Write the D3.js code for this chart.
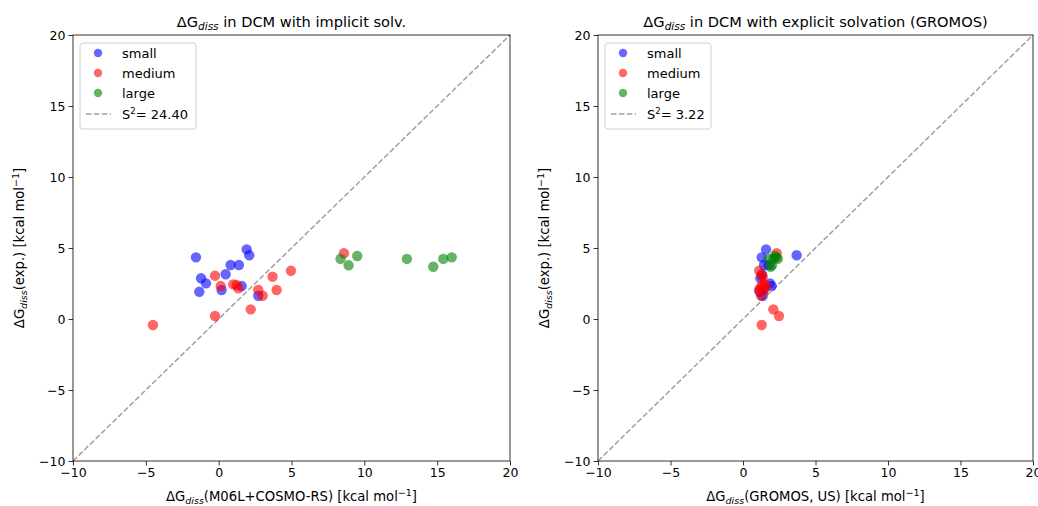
<!DOCTYPE html>
<html>
<head>
<meta charset="utf-8">
<script src="https://d3js.org/d3.v7.min.js"></script>
<style>
  body { margin: 0; background: #fff; }
  text { font-family: "DejaVu Sans", sans-serif; fill: #000; }
</style>
</head>
<body>
<svg id="chart" width="1038" height="506"></svg>
<script>
// ticks voor beide assen
const ticks = [-10, -5, 0, 5, 10, 15, 20];

// experimentele waarden (y) per groep
const smallExp  = [4.34, 4.90, 4.49, 3.80, 3.80, 3.15, 2.87, 2.51, 1.92, 2.04, 2.32, 1.64];
const mediumExp = [3.05, 2.32, 2.44, 2.39, 2.16, 2.98, 3.40, 2.04, 1.64, 2.04, 0.68, 0.21, -0.42, 4.63];
const largeExp  = [4.23, 3.78, 4.44, 4.23, 3.68, 4.23, 4.34];

// berekend met M06L+COSMO-RS (x, links)
const smallImpl  = [-1.56, 1.92, 2.10, 0.82, 1.39, 0.48, -1.21, -0.87, -1.33, 0.20, 1.58, 2.72];
const mediumImpl = [-0.25, 0.14, 1.00, 1.23, 1.35, 3.70, 4.96, 2.72, 3.02, 3.98, 2.20, -0.25, -4.51, 8.60];
const largeImpl  = [8.37, 8.92, 9.51, 12.92, 14.73, 15.42, 16.00];

// berekend met GROMOS, US (x, rechts)
const smallExpl  = [1.29, 1.59, 3.70, 1.45, 1.75, 1.30, 1.20, 1.86, 1.15, 1.40, 1.98, 1.36];
const mediumExpl = [1.30, 1.60, 1.50, 1.30, 1.20, 1.36, 1.12, 1.10, 1.25, 1.45, 2.09, 2.48, 1.29, 2.32];
const largeExpl  = [1.75, 2.00, 2.20, 2.40, 1.90, 2.10, 2.30];

const labels = ["small", "medium", "large"];
const colors = ["#0000ff", "#ff0000", "#008000"];

const svg = d3.select("#chart");

function zip(xs, ys) {
  return xs.map(function(x, i) { return {x: x, y: ys[i]}; });
}

function drawPanel(opts) {
  var x = d3.scaleLinear().domain([-10, 20]).range([opts.left, opts.right]);
  var y = d3.scaleLinear().domain([-10, 20]).range([461, 35]);

  var g = svg.append("g");

  // diagonale lijn
  g.append("line")
      .attr("x1", x(-10)).attr("y1", y(-10))
      .attr("x2", x(20)).attr("y2", y(20))
      .attr("stroke", "#a0a0a0")
      .attr("stroke-width", 1.5)
      .attr("stroke-dasharray", "5.5,2.4");

  // punten per groep
  opts.groups.forEach(function(data, i) {
    g.append("g").selectAll("circle")
        .data(data)
        .enter()
        .append("circle")
        .attr("cx", function(d) { return x(d.x); })
        .attr("cy", function(d) { return y(d.y); })
        .attr("r", 5.2)
        .attr("fill", colors[i])
        .attr("fill-opacity", 0.6);
  });

  // assen
  var xAxis = g.append("g")
      .attr("transform", "translate(0,461)")
      .call(d3.axisBottom(x).tickValues(ticks).tickSize(4.5).tickPadding(3).tickFormat(d3.format("d")));
  var yAxis = g.append("g")
      .attr("transform", "translate(" + opts.left + ",0)")
      .call(d3.axisLeft(y).tickValues(ticks).tickSize(4.5).tickPadding(3).tickFormat(d3.format("d")));
  [xAxis, yAxis].forEach(function(a) {
    a.select(".domain").remove();
    a.selectAll("text").attr("font-size", 12.5).style("font-family", "DejaVu Sans");
    a.selectAll("line").attr("stroke", "#000").attr("stroke-width", 0.8);
  });
  xAxis.selectAll("text").text(function(d) { return d < 0 ? "\u2212" + (-d) : d; });
  yAxis.selectAll("text").text(function(d) { return d < 0 ? "\u2212" + (-d) : d; });

  // kader
  g.append("rect")
      .attr("x", opts.left).attr("y", 35)
      .attr("width", opts.right - opts.left).attr("height", 426)
      .attr("fill", "none").attr("stroke", "#000").attr("stroke-width", 0.8);

  var cx = (opts.left + opts.right) / 2;

  // titel
  var t = g.append("text").attr("x", cx).attr("y", 27).attr("text-anchor", "middle").attr("font-size", 14.6);
  t.append("tspan").text("\u0394G");
  t.append("tspan").text("diss").attr("font-style", "italic").attr("font-size", 10.5).attr("dy", 3);
  t.append("tspan").text(" " + opts.title).attr("dy", -3);

  // x-label
  var xl = g.append("text").attr("x", cx).attr("y", 501).attr("text-anchor", "middle").attr("font-size", 13.2);
  xl.append("tspan").text("\u0394G");
  xl.append("tspan").text("diss").attr("font-style", "italic").attr("font-size", 9.5).attr("dy", 3);
  xl.append("tspan").text("(" + opts.xlabel + ") [kcal mol").attr("dy", -3);
  xl.append("tspan").text("\u22121").attr("font-size", 9.5).attr("dy", -5);
  xl.append("tspan").text("]").attr("dy", 5);

  // y-label
  var yl = g.append("text")
      .attr("transform", "translate(" + (opts.left - 49) + ",248) rotate(-90)")
      .attr("text-anchor", "middle").attr("font-size", 13.2);
  yl.append("tspan").text("\u0394G");
  yl.append("tspan").text("diss").attr("font-style", "italic").attr("font-size", 9.5).attr("dy", 3);
  yl.append("tspan").text("(exp.) [kcal mol").attr("dy", -3);
  yl.append("tspan").text("\u22121").attr("font-size", 9.5).attr("dy", -5);
  yl.append("tspan").text("]").attr("dy", 5);

  // legenda
  var lx = opts.left + 7, ly = 43;
  var leg = g.append("g");
  leg.append("rect")
      .attr("x", lx).attr("y", ly).attr("width", opts.legendWidth).attr("height", 86)
      .attr("rx", 3).attr("fill", "#fff").attr("fill-opacity", 0.8)
      .attr("stroke", "#d0d0d0").attr("stroke-width", 1);
  labels.forEach(function(l, i) {
    var yy = ly + 10 + i * 20;
    leg.append("circle").attr("cx", lx + 18).attr("cy", yy).attr("r", 4.2)
        .attr("fill", colors[i]).attr("fill-opacity", 0.6);
    leg.append("text").attr("x", lx + 42).attr("y", yy + 4.8).attr("font-size", 13).text(l);
  });
  var sy = ly + 71;
  leg.append("line").attr("x1", lx + 6).attr("x2", lx + 31).attr("y1", sy).attr("y2", sy)
      .attr("stroke", "#a0a0a0").attr("stroke-width", 1.5).attr("stroke-dasharray", "5.5,2.4");
  var st = leg.append("text").attr("x", lx + 42).attr("y", sy + 4.8).attr("font-size", 13);
  st.append("tspan").text("S");
  st.append("tspan").text("2").attr("font-size", 8.5).attr("dy", -5);
  st.append("tspan").text("= " + opts.s2).attr("dy", 5);
}

drawPanel({
  left: 73, right: 510,
  title: "in DCM with implicit solv.",
  xlabel: "M06L+COSMO-RS",
  s2: "24.40",
  legendWidth: 116,
  groups: [zip(smallImpl, smallExp), zip(mediumImpl, mediumExp), zip(largeImpl, largeExp)]
});

drawPanel({
  left: 598, right: 1033,
  title: "in DCM with explicit solvation (GROMOS)",
  xlabel: "GROMOS, US",
  s2: "3.22",
  legendWidth: 106,
  groups: [zip(smallExpl, smallExp), zip(mediumExpl, mediumExp), zip(largeExpl, largeExp)]
});
</script>
</body>
</html>
